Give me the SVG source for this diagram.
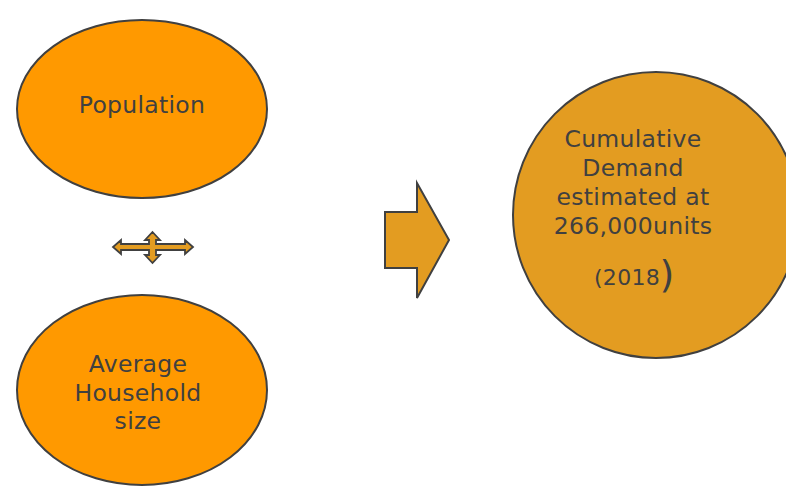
<svg xmlns="http://www.w3.org/2000/svg" width="786" height="487" viewBox="0 0 786 487">
<style>
.node{stroke:#404040;stroke-width:2}
.o1{fill:#FF9900}
.o2{fill:#E39C21}
.t{font-family:"DejaVu Sans","Liberation Sans",sans-serif;font-size:23.5px;fill:#404040;text-anchor:middle;letter-spacing:0.3px}
</style>
<rect width="786" height="487" fill="#FFFFFF"/>
<g id="population">
<ellipse class="node o1" cx="142" cy="109" rx="125" ry="89"/>
<text class="t" x="142" y="113">Population</text>
</g>
<g id="household">
<ellipse class="node o1" cx="142" cy="390" rx="125" ry="95"/>
<text class="t" x="138" y="372">Average</text>
<text class="t" x="138" y="401">Household</text>
<text class="t" x="138" y="429">size</text>
</g>
<g id="demand">
<circle class="node o2" cx="656" cy="215" r="143"/>
<text class="t" x="633" y="147">Cumulative</text>
<text class="t" x="633" y="176">Demand</text>
<text class="t" x="633" y="205">estimated at</text>
<text class="t" x="633" y="234">266,000units</text>
<text class="t" x="627" y="285" style="font-size:22px">(2018</text>
<text class="t" x="667" y="287" style="font-size:38px">)</text>
</g>
<g id="connectors">
<polygon class="o2" stroke="#404040" stroke-width="1.8" stroke-linejoin="miter" points="152.5,232 160,240 156,240 156,244 185,244 185,240 193,247 185,254 185,250 156,250 156,255 160,255 152.5,263 145,255 149,255 149,250 121,250 121,254 113,247 121,240 121,244 149,244 149,240 145,240"/>
<polygon class="node o2" points="385,212 417,212 417,183 449,240 417,298 417,268 385,268"/>
</g>
</svg>
